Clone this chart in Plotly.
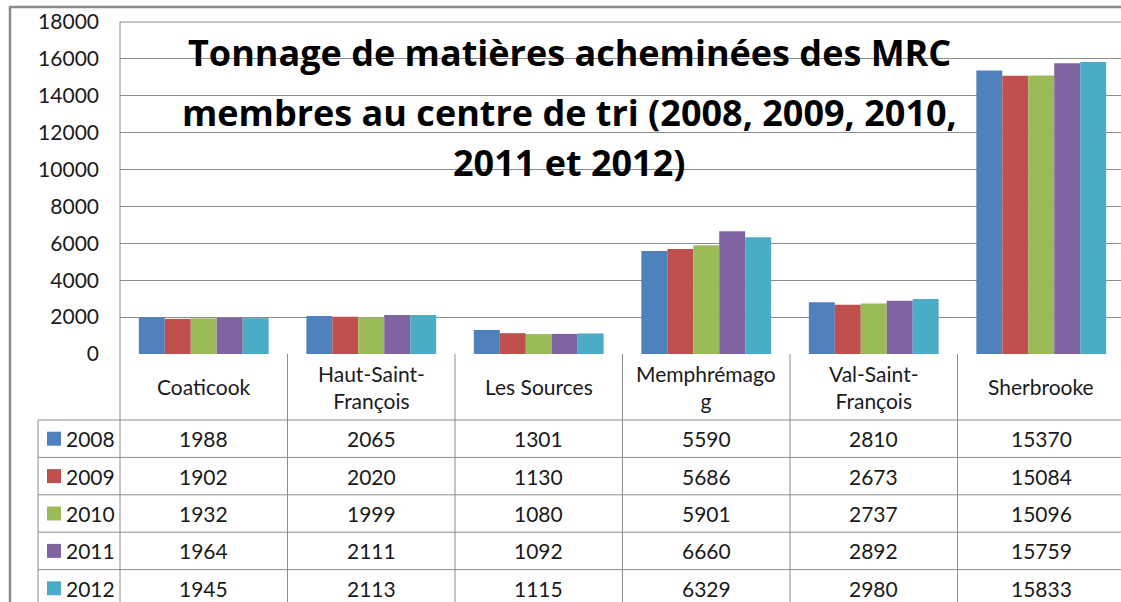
import plotly.graph_objects as go

categories = ["Coaticook", "Haut-Saint-François", "Les Sources", "Memphrémagog", "Val-Saint-François", "Sherbrooke"]
category_labels = ["Coaticook", "Haut-Saint-<br>François", "Les Sources", "Memphrémago<br>g", "Val-Saint-<br>François", "Sherbrooke"]
years = ["2008", "2009", "2010", "2011", "2012"]
v2008 = [1988, 2065, 1301, 5590, 2810, 15370]
v2009 = [1902, 2020, 1130, 5686, 2673, 15084]
v2010 = [1932, 1999, 1080, 5901, 2737, 15096]
v2011 = [1964, 2111, 1092, 6660, 2892, 15759]
v2012 = [1945, 2113, 1115, 6329, 2980, 15833]
series = [v2008, v2009, v2010, v2011, v2012]
colors = ["#4F81BD", "#C0504D", "#9BBB59", "#8064A2", "#4BACC6"]
title_lines = ["Tonnage de matières acheminées des MRC",
               "membres au centre de tri (2008, 2009, 2010,",
               "2011 et 2012)"]
y_ticks = list(range(0, 18001, 2000))

W, H = 1121, 602
PL, PT, PB = 120, 22, 354
PW = W - PL
PH = PB - PT
CAT_W = 167.5
FONT = "Lato, Noto Sans, sans-serif"
TFONT = "Open Sans, Lato, sans-serif"
GRID = "#8c8c8c"
TXT = "#1a1a1a"
FS = 21


def px(x):
    return (x - PL) / PW


def py(y):
    return (PB - y) / PH


fig = go.Figure()
for yr, vals, col in zip(years, series, colors):
    fig.add_trace(go.Bar(x=categories, y=vals, name=yr, marker_color=col,
                         marker_line_width=0))

x_end = -0.5 + PW / CAT_W

shapes = []
annots = []

# outer chart border
shapes.append(dict(type="rect", xref="paper", yref="paper", x0=px(10), x1=px(1130),
                   y0=py(640), y1=py(7), line=dict(color="#8a8a8a", width=2.5),
                   layer="below"))
# left plot/table line
shapes.append(dict(type="line", xref="paper", yref="paper", x0=0, x1=0,
                   y0=py(610), y1=1, line=dict(color=GRID, width=1)))
# top gridline
shapes.append(dict(type="line", xref="paper", yref="paper", x0=0, x1=1,
                   y0=1, y1=1, line=dict(color=GRID, width=1)))
# column separators in table
for i in range(len(categories)):
    shapes.append(dict(type="line", xref="x", yref="paper", x0=i + 0.5, x1=i + 0.5,
                       y0=py(610), y1=0, line=dict(color=GRID, width=1)))
# table rows
row_h = 37.4
row_top = 420
for r in range(len(years) + 1):
    yy = row_top + r * row_h
    shapes.append(dict(type="line", xref="paper", yref="paper", x0=px(38), x1=1,
                       y0=py(yy), y1=py(yy), line=dict(color=GRID, width=1)))
# left column outer line
shapes.append(dict(type="line", xref="paper", yref="paper", x0=px(38), x1=px(38),
                   y0=py(610), y1=py(row_top), line=dict(color=GRID, width=1)))

# category labels
for i, lab in enumerate(category_labels):
    annots.append(dict(x=categories[i], xref="x", y=py(387), yref="paper",
                       text=lab, showarrow=False, xanchor="center", yanchor="middle",
                       font=dict(family=FONT, size=FS, color=TXT)))

# table data rows
for r, (yr, vals, col) in enumerate(zip(years, series, colors)):
    cy = row_top + (r + 0.5) * row_h
    shapes.append(dict(type="rect", xref="paper", yref="paper", x0=px(47), x1=px(61),
                       y0=py(cy + 7), y1=py(cy - 7), fillcolor=col, line=dict(width=0)))
    annots.append(dict(x=px(64), xref="paper", y=py(cy), yref="paper", text=yr,
                       showarrow=False, xanchor="left", yanchor="middle",
                       font=dict(family=FONT, size=FS, color=TXT)))
    for i, v in enumerate(vals):
        annots.append(dict(x=categories[i], xref="x", y=py(cy), yref="paper",
                           text=str(v), showarrow=False, xanchor="center",
                           yanchor="middle", font=dict(family=FONT, size=FS, color=TXT)))

# title
title_y = [52, 112, 162]
for t, ty in zip(title_lines, title_y):
    annots.append(dict(x=px(569), xref="paper", y=py(ty), yref="paper",
                       text="<b>" + t + "</b>", showarrow=False, xanchor="center",
                       yanchor="middle", font=dict(family=TFONT, size=36, color="#000000")))

fig.update_layout(
    width=W, height=H,
    margin=dict(l=PL, r=0, t=PT, b=H - PB, pad=0, autoexpand=False),
    paper_bgcolor="white", plot_bgcolor="white",
    barmode="group", bargap=0.225, bargroupgap=0,
    showlegend=False,
    shapes=shapes, annotations=annots,
    xaxis=dict(type="category", range=[-0.5, x_end], showticklabels=False,
               showgrid=False, zeroline=False, showline=False, ticks=""),
    yaxis=dict(range=[0, 18000], tickvals=y_ticks, tickformat="d", showgrid=True,
               gridcolor=GRID, gridwidth=1, zeroline=False, showline=False, ticks="",
               ticklabelstandoff=20,
               tickfont=dict(family=FONT, size=FS, color=TXT)),
)

fig.write_html("out.html", config={"displayModeBar": False},
               post_script="document.body.style.margin='0';document.body.style.overflow='hidden';")
